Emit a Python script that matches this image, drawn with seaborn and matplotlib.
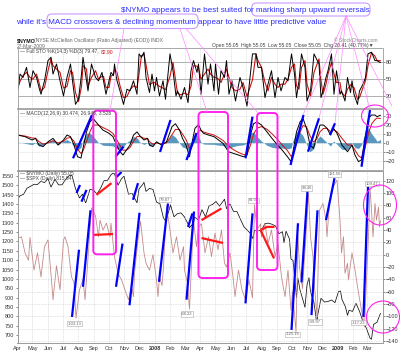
import numpy as np
import pandas as pd
import matplotlib
matplotlib.use("Agg")
import matplotlib.pyplot as plt
from matplotlib.patches import FancyBboxPatch, Ellipse
from matplotlib.lines import Line2D
import seaborn as sns

# ---------------- data ----------------
nymo_dates = ["2007-04-02","2007-04-09","2007-04-16","2007-04-23","2007-04-26","2007-05-04","2007-05-11","2007-05-18",
 "2007-05-25","2007-06-01","2007-06-08","2007-06-11","2007-06-18","2007-06-25","2007-07-02","2007-07-05","2007-07-11",
 "2007-07-18","2007-07-23","2007-07-27","2007-08-03","2007-08-10","2007-08-14","2007-08-17","2007-08-27","2007-09-04",
 "2007-09-10","2007-09-13","2007-09-19","2007-09-26","2007-10-03","2007-10-05","2007-10-12","2007-10-19","2007-10-26",
 "2007-11-02","2007-11-09","2007-11-15","2007-11-19","2007-11-21","2007-11-28","2007-12-03","2007-12-10","2007-12-14",
 "2007-12-21","2007-12-28","2008-01-04","2008-01-07","2008-01-10","2008-01-15","2008-01-18","2008-01-24","2008-01-31",
 "2008-02-06","2008-02-13","2008-02-20","2008-02-27","2008-02-29","2008-03-06","2008-03-10","2008-03-18","2008-03-24",
 "2008-03-28","2008-04-03","2008-04-10","2008-04-17","2008-04-23","2008-04-30","2008-05-06","2008-05-13","2008-05-19",
 "2008-05-23","2008-05-30","2008-06-05","2008-06-09","2008-06-16","2008-06-23","2008-06-30","2008-07-07","2008-07-14",
 "2008-07-18","2008-07-23","2008-07-30","2008-08-01","2008-08-08","2008-08-14","2008-08-21","2008-08-28","2008-09-03",
 "2008-09-10","2008-09-17","2008-09-23","2008-09-29","2008-10-02","2008-10-09","2008-10-13","2008-10-16","2008-10-22",
 "2008-10-28","2008-11-03","2008-11-07","2008-11-12","2008-11-14","2008-11-20","2008-11-25","2008-12-02","2008-12-08",
 "2008-12-10","2008-12-15","2008-12-19","2008-12-30","2009-01-05","2009-01-08","2009-01-12","2009-01-15","2009-01-20",
 "2009-01-22","2009-01-29","2009-02-04","2009-02-10","2009-02-17","2009-02-23","2009-02-27","2009-03-03","2009-03-06",
 "2009-03-09","2009-03-12","2009-03-16","2009-03-19","2009-03-23","2009-03-25","2009-03-27"]
nymo_values = [27,29,3,-9,28,-25,3,-36,13,24,-41,-73,-18,-57,24,29,13,-36,-45,-103,-57,-40,-73,-40,76,63,
 29,56,40,51,29,51,-3,-30,-41,-57,-73,-52,-68,-30,24,54,3,-14,-25,0,-41,-68,-36,-50,-20,79,40,
 3,29,-9,13,-25,-46,-88,56,13,45,50,3,29,-3,35,8,40,-14,-20,3,-36,-68,-25,-57,-73,-41,-70,
 81,40,50,29,50,18,40,-3,18,-36,-68,-25,-90,-60,-125,30,-20,-55,20,99,29,-3,-41,-100,72,83,
 56,29,83,105,121,56,3,29,-30,-14,-41,3,-25,-57,-90,-117,-40,30,109,72,29,83,56,77,45,55.05]

spx_dates = ["2007-04-02","2007-04-05","2007-04-13","2007-04-20","2007-04-27","2007-05-04","2007-05-11","2007-05-18",
 "2007-05-25","2007-06-01","2007-06-07","2007-06-15","2007-06-22","2007-06-29","2007-07-06","2007-07-13","2007-07-19",
 "2007-07-26","2007-08-03","2007-08-09","2007-08-15","2007-08-16","2007-08-24","2007-08-31","2007-09-07","2007-09-14",
 "2007-09-21","2007-09-28","2007-10-05","2007-10-09","2007-10-12","2007-10-19","2007-10-26","2007-10-31","2007-11-07",
 "2007-11-09","2007-11-16","2007-11-26","2007-11-30","2007-12-07","2007-12-10","2007-12-14","2007-12-21","2007-12-28",
 "2008-01-04","2008-01-11","2008-01-18","2008-01-22","2008-01-25","2008-02-01","2008-02-08","2008-02-15","2008-02-22",
 "2008-02-29","2008-03-07","2008-03-10","2008-03-14","2008-03-17","2008-03-20","2008-03-28","2008-04-04","2008-04-11",
 "2008-04-18","2008-04-25","2008-05-02","2008-05-09","2008-05-19","2008-05-23","2008-05-30","2008-06-06","2008-06-13",
 "2008-06-20","2008-06-27","2008-07-03","2008-07-11","2008-07-15","2008-07-18","2008-07-25","2008-08-01","2008-08-08",
 "2008-08-15","2008-08-22","2008-08-29","2008-09-05","2008-09-12","2008-09-15","2008-09-19","2008-09-26","2008-09-29",
 "2008-10-03","2008-10-10","2008-10-13","2008-10-17","2008-10-24","2008-10-27","2008-10-31","2008-11-04","2008-11-07",
 "2008-11-14","2008-11-20","2008-11-21","2008-11-28","2008-12-05","2008-12-12","2008-12-19","2008-12-26","2009-01-02",
 "2009-01-06","2009-01-09","2009-01-16","2009-01-20","2009-01-23","2009-01-30","2009-02-06","2009-02-13","2009-02-20",
 "2009-02-27","2009-03-06","2009-03-09","2009-03-13","2009-03-20","2009-03-27"]
spx_values = [1424,1443,1452,1485,1495,1506,1505,1522,1515,1536,1491,1533,1503,1503,1531,1552,1553,
 1482,1433,1453,1407,1411,1479,1474,1454,1484,1525,1527,1557,1565,1562,1501,1536,1549,1475,
 1453,1458,1407,1481,1504,1516,1468,1484,1478,1411,1401,1325,1310,1330,1396,1332,1349,1353,
 1331,1294,1273,1288,1277,1330,1315,1370,1332,1390,1398,1414,1389,1426,1376,1400,1361,1360,
 1318,1278,1262,1240,1215,1260,1257,1260,1296,1298,1292,1283,1242,1252,1193,1255,1213,1106,
 1099,899,1003,940,877,848,968,1006,931,873,752,800,896,876,879,887,873,932,
 935,890,850,805,832,826,869,827,770,735,683,677,756,768,815.94]

sto_dates = ["2007-04-02","2007-04-06","2007-04-12","2007-04-19","2007-04-26","2007-05-02","2007-05-09","2007-05-14",
 "2007-05-18","2007-05-25","2007-06-01","2007-06-07","2007-06-11","2007-06-18","2007-06-25","2007-07-02","2007-07-09",
 "2007-07-16","2007-07-20","2007-07-26","2007-08-01","2007-08-07","2007-08-10","2007-08-17","2007-08-20","2007-08-27",
 "2007-09-04","2007-09-10","2007-09-17","2007-09-20","2007-09-25","2007-10-01","2007-10-05","2007-10-10","2007-10-12",
 "2007-10-17","2007-10-23","2007-10-30","2007-11-06","2007-11-12","2007-11-19","2007-11-26","2007-11-30","2007-12-05",
 "2007-12-10","2007-12-14","2007-12-21","2007-12-26","2007-12-31","2008-01-04","2008-01-10","2008-01-17","2008-01-22",
 "2008-01-31","2008-02-06","2008-02-12","2008-02-15","2008-02-22","2008-02-29","2008-03-07","2008-03-13","2008-03-18",
 "2008-03-25","2008-03-28","2008-04-02","2008-04-09","2008-04-16","2008-04-21","2008-04-28","2008-05-01","2008-05-07",
 "2008-05-12","2008-05-19","2008-05-23","2008-05-28","2008-06-03","2008-06-10","2008-06-19","2008-06-25","2008-07-03",
 "2008-07-14","2008-07-21","2008-07-25","2008-08-01","2008-08-08","2008-08-14","2008-08-21","2008-08-28","2008-09-03",
 "2008-09-09","2008-09-17","2008-09-23","2008-09-30","2008-10-06","2008-10-10","2008-10-15","2008-10-20","2008-10-27",
 "2008-10-31","2008-11-07","2008-11-14","2008-11-24","2008-11-28","2008-12-02","2008-12-08","2008-12-12","2008-12-19",
 "2008-12-24","2008-12-29","2009-01-05","2009-01-08","2009-01-15","2009-01-20","2009-01-26","2009-01-29","2009-02-02",
 "2009-02-09","2009-02-13","2009-02-20","2009-02-25","2009-03-02","2009-03-09","2009-03-16","2009-03-20","2009-03-27"]
sto_k = [32,59,53,71,35,65,53,35,23,47,83,89,59,77,47,20,53,77,47,5,14,59,89,47,29,77,
 53,47,62,47,23,47,62,56,77,47,29,5,32,29,47,23,95,89,98,53,26,59,29,53,20,47,14,
 95,65,20,29,14,35,8,65,83,62,77,23,95,41,77,29,77,23,65,53,83,23,47,11,53,35,2,
 95,95,71,71,17,41,65,17,53,29,53,47,95,59,17,47,95,71,11,29,95,77,17,29,53,65,95,
 23,65,23,29,11,53,26,47,23,5,29,41,53,95,98,83,83,79.47]
sto_d = [35,46,56,62,53,50,59,44,29,35,65,86,74,68,62,34,37,65,62,26,10,37,74,68,38,53,
 65,50,55,55,35,35,55,59,67,62,38,17,19,31,38,35,59,92,94,76,40,43,44,41,37,34,31,
 55,80,43,25,22,25,22,37,74,73,70,50,59,68,59,53,53,50,44,59,68,53,35,29,32,44,19,
 49,95,83,71,44,29,53,41,35,41,41,50,71,77,38,32,71,83,41,20,62,86,47,23,41,59,80,
 59,44,44,26,20,32,40,37,35,14,17,35,47,74,97,91,83,82.90]

macd_dates = ["2007-04-03","2007-04-16","2007-04-30","2007-05-07","2007-05-14","2007-05-22","2007-06-01","2007-06-11",
 "2007-06-21","2007-07-02","2007-07-09","2007-07-16","2007-07-23","2007-07-30","2007-08-06","2007-08-10","2007-08-17",
 "2007-08-24","2007-08-30","2007-09-10","2007-09-19","2007-10-01","2007-10-09","2007-10-16","2007-10-23","2007-10-29",
 "2007-11-05","2007-11-12","2007-11-19","2007-11-26","2007-12-03","2007-12-10","2007-12-17","2007-12-21","2007-12-28",
 "2008-01-04","2008-01-14","2008-01-24","2008-02-04","2008-02-11","2008-02-19","2008-02-25","2008-03-03","2008-03-10",
 "2008-03-14","2008-03-21","2008-03-28","2008-04-02","2008-04-07","2008-04-17","2008-04-28","2008-05-07","2008-05-16",
 "2008-05-27","2008-06-06","2008-06-16","2008-06-26","2008-07-03","2008-07-10","2008-07-16","2008-07-23","2008-08-01",
 "2008-08-12","2008-08-22","2008-09-02","2008-09-11","2008-09-22","2008-09-29","2008-10-03","2008-10-10","2008-10-17",
 "2008-10-23","2008-10-30","2008-11-06","2008-11-13","2008-11-20","2008-11-26","2008-12-03","2008-12-10","2008-12-17",
 "2008-12-23","2008-12-30","2009-01-09","2009-01-20","2009-01-29","2009-02-04","2009-02-11","2009-02-17","2009-02-24",
 "2009-03-03","2009-03-09","2009-03-16","2009-03-20","2009-03-27"]
macd_line = [8.5,6.7,3,4.8,-2.6,-4.4,1,4.8,-2.6,3,8.5,6.7,-2.6,-15.6,-17,-6.3,12,23,27,19.6,14,10.4,6.7,-2.6,
 -10,-13.7,-8,-2.6,8.5,12,6.7,3,4.8,-2.6,-4.4,1,-2.6,1,17.8,21,14,4.8,-2.6,-15.6,-2.6,16,20,14,10.4,
 8.5,6.7,3,-0.7,-10,-11.9,-13.7,-15.6,-13.7,8.5,21,23,19.6,12,4.8,-2.6,-8,-15.6,-21,-10,12,23,27,16,
 -2.6,-6.3,8.5,19.6,19.6,16,8.5,16,10.4,-2.6,-10,-2.6,-13.7,-21,-19,4.8,27,30.7,30.7,28.9,30.474]
macd_signal = [8,7.4,5.2,5.0,1.2,-1.6,-0.3,2.3,-0.2,1.4,5.0,5.8,1.6,-7.0,-12.0,-9.2,1.4,12.2,19.6,19.6,16.8,13.6,
 10.2,3.8,-3.1,-8.4,-8.2,-5.4,1.6,6.8,6.8,4.9,4.8,1.1,-1.7,-0.3,-1.5,-0.2,8.8,14.9,14.5,9.6,3.5,-6.1,-4.3,5.8,
 12.9,13.5,11.9,10.2,8.5,5.7,2.5,-3.7,-7.8,-10.8,-13.2,-13.4,-2.5,9.3,16.1,17.9,14.9,9.9,3.6,-2.2,-8.9,-15.0,
 -12.5,-0.2,11.4,19.2,17.6,7.5,0.6,4.5,12.1,15.8,15.9,12.2,14.1,12.2,4.8,-2.6,-2.6,-8.2,-14.6,-16.8,-6.0,10.5,
 20.6,25.6,27.3,26.95]
macd_hist = [0.5,-0.7,-2.2,-0.2,-3.8,-2.8,1.3,2.5,-2.4,1.6,3.5,0.9,-4.2,-8.6,-5.0,2.9,10.6,10.8,7.4,0,-2.8,-3.2,
 -3.5,-6.4,-6.9,-5.3,0.2,2.8,6.9,5.2,-0.1,-1.9,0,-3.7,-2.7,1.3,-1.1,1.2,9.0,6.1,-0.5,-4.8,-6.1,-9.5,1.7,10.2,
 7.1,0.5,-1.5,-1.7,-1.8,-2.7,-3.2,-6.3,-4.1,-2.9,-2.4,-0.3,11.0,11.7,6.9,1.7,-2.9,-5.1,-6.2,-5.8,-6.7,-6.0,
 2.5,12.2,11.6,7.8,-1.6,-10.1,-6.9,4.0,7.5,3.8,0.1,-3.7,1.9,-1.8,-7.4,-7.4,0,-5.5,-6.4,-2.2,10.8,16.5,
 10.1,5.1,1.6,3.52]

sto_ticks = [20, 50, 80]
macd_ticks = [-20, -10, 0, 10, 20, 30]
nymo_ticks = list(range(-140, 121, 20))
spx_ticks = list(range(700, 1551, 50))
month_starts = pd.date_range("2007-04-01", "2009-03-01", freq="MS")
month_labels = [("2008" if (d.month == 1 and d.year == 2008) else "2009" if (d.month == 1) else d.strftime("%b"))
                for d in month_starts]

# hand-drawn annotation marks (start date, start value, end date, end value)
main_blue = [("2007-07-28", 100, "2007-08-04", 113), ("2007-08-07", 86, "2007-08-17", 105),
             ("2007-07-19", -101, "2007-08-02", 8), ("2007-08-10", -52, "2007-08-25", 72),
             ("2007-10-15", -52, "2007-10-28", 18), ("2007-10-16", 126, "2007-10-26", 134),
             ("2007-11-18", 89, "2007-11-28", 116), ("2007-11-11", -82, "2007-12-01", 68),
             ("2008-01-09", -44, "2008-01-27", 83), ("2008-03-04", -73, "2008-03-19", 70),
             ("2008-03-07", 45, "2008-03-16", 67), ("2008-06-30", -79, "2008-07-14", 67),
             ("2008-09-30", -122, "2008-10-13", 51), ("2008-10-20", -45, "2008-11-01", 103),
             ("2008-11-09", -98, "2008-11-21", 72), ("2008-12-08", 56, "2008-12-25", 124),
             ("2009-02-21", -101, "2009-03-02", 110)]
main_red = [[("2007-09-06", 97), ("2007-10-06", 116)], [("2007-08-30", 32), ("2007-10-09", 33.5)],
            [("2008-04-03", 56), ("2008-05-13", 75)], [("2008-04-03", 27), ("2008-05-16", 19)],
            [("2008-07-30", 40), ("2008-08-12", 45), ("2008-08-27", 45)],
            [("2008-07-30", 40), ("2008-08-26", -6)]]
macd_blue = [("2007-07-21", -17.3, "2007-08-28", 30.8), ("2007-10-14", -15.6, "2007-10-30", -4.4),
             ("2008-01-11", -10.3, "2008-02-01", 25.2), ("2008-03-04", -19.2, "2008-03-24", 10.8),
             ("2008-06-30", -17.3, "2008-07-14", 28.9), ("2008-09-28", -24.8, "2008-10-24", 30.8),
             ("2008-11-02", -10, "2008-11-24", 27.1), ("2008-12-16", 8.6, "2008-12-26", 21.6),
             ("2009-02-17", -26.7, "2009-03-06", 36.3)]
value_labels = [("2007-07-25", -112, "-103.13"), ("2008-01-21", 89, "79.87"), ("2008-03-05", -96, "-88.22"),
                ("2008-07-16", 88, "81.02"), ("2008-10-30", 108, "99.46"), ("2008-12-25", 131, "121.56"),
                ("2008-10-03", -129, "-125.16"), ("2008-11-16", -109, "-99.97"), ("2009-02-11", -110, "-117.23"),
                ("2009-03-10", 115, "109.47")]

# ---------------- style ----------------
sns.set_theme(style="white")
plt.rcParams['font.family'] = ['Liberation Sans', 'DejaVu Sans']

nymo_df = pd.DataFrame({"date": pd.to_datetime(nymo_dates), "v": nymo_values})
spx_df = pd.DataFrame({"date": pd.to_datetime(spx_dates), "v": spx_values})
sto_df = pd.DataFrame({"date": pd.to_datetime(sto_dates), "k": sto_k, "d": sto_d})
macd_df = pd.DataFrame({"date": pd.to_datetime(macd_dates), "m": macd_line, "s": macd_signal, "h": macd_hist})

fig = plt.figure(figsize=(4, 3.6), dpi=100)
L, W = 17.5 / 400, 365 / 400
ax_sto = fig.add_axes([L, 1 - 108 / 360, W, 60 / 360])
ax_macd = fig.add_axes([L, 1 - 170 / 360, W, 61 / 360])
ax_spx = fig.add_axes([L, 1 - 343 / 360, W, 172 / 360])
ax_ny = ax_spx.twinx()

x0, x1 = pd.Timestamp("2007-04-01"), pd.Timestamp("2009-03-31")
tick_kw = dict(labelsize=4, length=1.5, width=0.4, pad=1, colors='#333333')

def frame(ax):
    for s in ax.spines.values():
        s.set_color('#9a9a9a')
        s.set_linewidth(0.6)
    ax.set_xlim(x0, x1)
    ax.set_xticks(month_starts)
    ax.grid(axis='x', ls=(0, (1, 1.5)), color='#c8c8c8', lw=0.5)
    ax.set_xlabel("")
    ax.set_ylabel("")

# STO panel
sns.lineplot(data=sto_df, x="date", y="d", ax=ax_sto, color="#cc1111", lw=0.8)
sns.lineplot(data=sto_df, x="date", y="k", ax=ax_sto, color="black", lw=0.7)
frame(ax_sto)
ax_sto.set_ylim(-1.5, 105.5)
ax_sto.set_yticks(sto_ticks)
ax_sto.grid(axis='y', color='#b0b0b0', lw=0.7)
ax_sto.yaxis.tick_right()
ax_sto.tick_params(axis='both', **tick_kw)
ax_sto.tick_params(axis='x', labelbottom=False, length=0)

# MACD panel
ax_macd.fill_between(macd_df["date"], 0, macd_df["h"], color="#3c86b4", alpha=0.85, lw=0)
sns.lineplot(data=macd_df, x="date", y="s", ax=ax_macd, color="#cc1111", lw=0.7)
sns.lineplot(data=macd_df, x="date", y="m", ax=ax_macd, color="black", lw=0.7)
frame(ax_macd)
ax_macd.set_ylim(-30.3, 37.4)
ax_macd.set_yticks(macd_ticks)
ax_macd.grid(axis='y', ls=(0, (1, 1.5)), color='#c8c8c8', lw=0.5)
ax_macd.yaxis.tick_right()
ax_macd.tick_params(axis='both', **tick_kw)
ax_macd.tick_params(axis='x', labelbottom=False, length=0)
for d0, v0, d1, v1 in macd_blue:
    ax_macd.plot([pd.Timestamp(d0), pd.Timestamp(d1)], [v0, v1], color="#0000ff", lw=1.6,
                 solid_capstyle='butt', clip_on=False)

# main panel
sns.lineplot(data=spx_df, x="date", y="v", ax=ax_spx, color="#111111", lw=0.55)
frame(ax_spx)
ax_spx.set_ylim(657, 1577)
ax_spx.set_yticks(spx_ticks)
ax_spx.tick_params(axis='both', **tick_kw)
ax_spx.set_xticklabels(month_labels)
for lab in ax_spx.get_xticklabels():
    if lab.get_text() in ("2008", "2009"):
        lab.set_fontweight("bold")

sns.lineplot(data=nymo_df, x="date", y="v", ax=ax_ny, color="#c48a8a", lw=0.6)
ax_ny.set_xlim(x0, x1)
ax_ny.set_ylim(-143.2, 135.7)
ax_ny.set_yticks(nymo_ticks)
ax_ny.grid(axis='y', ls=(0, (1, 1.5)), color='#c8c8c8', lw=0.5)
ax_ny.set_ylabel("")
ax_ny.tick_params(axis='both', **tick_kw)
for s in ax_ny.spines.values():
    s.set_color('#9a9a9a')
    s.set_linewidth(0.6)
for d0, v0, d1, v1 in main_blue:
    ax_ny.plot([pd.Timestamp(d0), pd.Timestamp(d1)], [v0, v1], color="#0000ff", lw=1.6,
               solid_capstyle='butt', clip_on=False)
for seg in main_red:
    ax_ny.plot([pd.Timestamp(p[0]) for p in seg], [p[1] for p in seg], color="#ff1a1a", lw=1.6,
               solid_capstyle='butt')
for d, v, s in value_labels:
    ax_ny.text(pd.Timestamp(d), v, s, fontsize=3, color='#666666', ha='center', va='center',
               bbox=dict(boxstyle='square,pad=0.15', fc='white', ec='#aaaaaa', lw=0.4))

# ---------------- figure-level text and annotation shapes (pixel -> inches) ----------------
T = fig.dpi_scale_trans
def P(x, y):
    return (x / 100, (360 - y) / 100)

def ftext(x, y, s, **kw):
    fig.text(x / 400, 1 - y / 360, s, **kw)

blue_txt = '#2a2aff'
ftext(245, 10, "$NYMO appears to be best suited for marking sharp upward reversals", ha='center', va='center',
      fontsize=5.8, color=blue_txt)
ftext(171, 22, "while it's MACD crossovers & declining momentum appear to have little predictive value",
      ha='center', va='center', fontsize=5.8, color=blue_txt)

ftext(17, 40.5, "$NYMO", fontsize=3.8, fontweight='bold', va='center', color='#111111')
ftext(34, 40.5, "(NYSE McClellan Oscillator (Ratio Adjusted) (EOD)) INDX", fontsize=3.6, va='center', color='#666666')
ftext(17, 46, "27-Mar-2009", fontsize=3.6, va='center', color='#666666')
ftext(378, 40, "\u00a9 StockCharts.com", fontsize=3.6, va='center', ha='right', color='#888888')
ftext(212, 46, "Open 55.05  High 55.05  Low 55.05  Close 55.05  Chg 20.41 (40.77%)\u25bc",
      fontsize=3.6, va='center', color='#444444')
ftext(20, 52, "\u2014 Full STO %K(14,3) %D(3) 79.47,", fontsize=3.6, va='center', color='#444444')
ftext(101, 52, "82.90", fontsize=3.6, va='center', color='#cc1111')
ftext(20, 113.5, "\u2014 MACD(12,26,9) 30.474, 26.946, 3.528", fontsize=3.6, va='center', color='#444444')
ftext(20, 173, "\u2014 $NYMO (Daily) 55.05", fontsize=3.6, va='center', color='#444444')
ftext(20, 178.5, "\u2014 $SPX (Daily) 815.94", fontsize=3.6, va='center', color='#444444')

mag = '#ff22ee'
light = '#ff88ff'
lav = '#cc99ff'

def rbox(xa, ya, xb, yb, color, lw, r=0.05):
    (px, py) = P(xa, yb)
    fig.add_artist(FancyBboxPatch((px, py), (xb - xa) / 100, (yb - ya) / 100,
                                  boxstyle=f'round,pad=0,rounding_size={r}', transform=T,
                                  fill=False, ec=color, lw=lw))

def fline(xa, ya, xb, yb, color=light, lw=0.5):
    a, b = P(xa, ya), P(xb, yb)
    fig.add_artist(Line2D([a[0], b[0]], [a[1], b[1]], transform=T, color=color, lw=lw))

rbox(251.7, 3, 370, 16, lav, 0.8, 0.05)
rbox(47, 14, 198, 28.5, lav, 0.8, 0.05)

fline(124, 28.5, 110, 111)
fline(180, 28.5, 207, 112)
fline(186, 28.5, 258, 113)
for ex, ey in [(303, 115), (319, 118), (335, 123), (370, 110), (392, 106)]:
    fline(346, 16, ex, ey)

rbox(93.3, 110.7, 116, 254.3, mag, 1.4, 0.04)
rbox(198.5, 112, 228, 278, mag, 1.4, 0.04)
rbox(257, 113, 277.5, 270, mag, 1.4, 0.04)

for cx, cy, w, h in [(375, 116, 27, 22), (380, 205, 33, 40), (383, 317, 33, 32)]:
    fig.add_artist(Ellipse(P(cx, cy), w / 100, h / 100, transform=T, fill=False, ec=mag, lw=0.8))

fig.savefig("out.png", dpi=100)
